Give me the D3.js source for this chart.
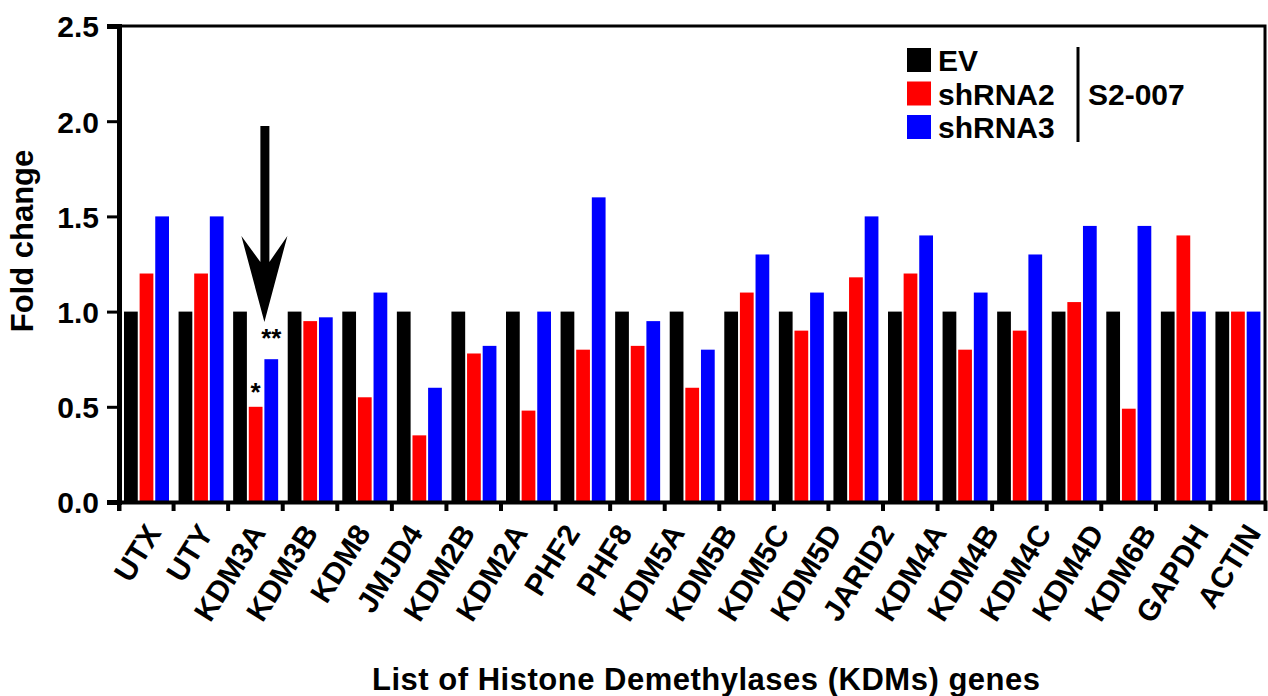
<html>
<head>
<meta charset="UTF-8">
<title>KDM fold change</title>
<script src="https://d3js.org/d3.v7.min.js"></script>
<style>
  body { margin: 0; background: #fff; }
  svg { display: block; }
  text { font-family: "Liberation Sans", Arial, sans-serif; font-weight: bold; fill: #000; }
  .tick-label { font-size: 30px; }
  .gene { font-size: 30px; }
  .legend { font-size: 30px; }
  .title { font-size: 31px; }
  .star { font-size: 26px; }
</style>
</head>
<body>
<svg width="1268" height="696"></svg>
<script>
// data
var series = ["EV", "shRNA2", "shRNA3"];
var colors = ["#000000", "#ff0000", "#0000ff"];

// gene labels as printed under the axis (22 labels)
var geneLabels = ["UTX", "UTY", "KDM3A", "KDM3B", "KDM8", "JMJD4", "KDM2B", "KDM2A",
  "PHF2", "PHF8", "KDM5A", "KDM5B", "KDM5C", "KDM5D", "JARID2", "KDM4A",
  "KDM4B", "KDM4C", "KDM4D", "KDM6B", "GAPDH", "ACTIN"];

// bar groups as drawn on the axis (21 groups in the figure)
var evValues     = [1, 1, 1, 1, 1, 1, 1, 1, 1, 1, 1, 1, 1, 1, 1, 1, 1, 1, 1, 1, 1];
var shRNA2Values = [1.2, 1.2, 0.5, 0.95, 0.55, 0.35, 0.78, 0.48, 0.8, 0.82, 0.6,
  1.1, 0.9, 1.18, 1.2, 0.8, 0.9, 1.05, 0.49, 1.4, 1.0];
var shRNA3Values = [1.5, 1.5, 0.75, 0.97, 1.1, 0.6, 0.82, 1.0, 1.6, 0.95, 0.8,
  1.3, 1.1, 1.5, 1.4, 1.1, 1.3, 1.45, 1.45, 1.0, 1.0];

var yTicks = [0, 0.5, 1, 1.5, 2, 2.5];

var groups = d3.range(evValues.length);
var rows = groups.map(function (i) {
  return [evValues[i], shRNA2Values[i], shRNA3Values[i]];
});

var svg = d3.select("svg");

var plotLeft = 119, plotRight = 1265, plotTop = 26, plotBottom = 502;

var x = d3.scaleBand().domain(groups).range([plotLeft, plotRight]);
var xSub = d3.scaleBand().domain(series).range([5, 50]).paddingInner(0.12);
var y = d3.scaleLinear().domain([0, 2.5]).range([plotBottom, plotTop]);
var labelX = d3.scalePoint().domain(geneLabels).range([162, 1262]);

// bars
svg.append("g")
  .selectAll("g")
  .data(rows)
  .enter()
  .append("g")
  .attr("transform", function (d, i) { return "translate(" + x(i) + ",0)"; })
  .selectAll("rect")
  .data(function (d) { return d; })
  .enter()
  .append("rect")
  .attr("x", function (d, j) { return xSub(series[j]); })
  .attr("width", xSub.bandwidth())
  .attr("y", function (d) { return y(d); })
  .attr("height", function (d) { return plotBottom - y(d); })
  .attr("fill", function (d, j) { return colors[j]; });

// frame top + right
svg.append("path")
  .attr("d", "M" + plotLeft + "," + plotTop + "H" + plotRight + "V" + plotBottom)
  .attr("fill", "none")
  .attr("stroke", "#000")
  .attr("stroke-width", 3);

// y axis
var yAxis = d3.axisLeft(y).tickValues(yTicks).tickSize(12).tickPadding(8)
  .tickFormat(d3.format(".1f"));
var gy = svg.append("g")
  .attr("transform", "translate(" + plotLeft + ",0)")
  .call(yAxis);
gy.select(".domain").attr("stroke-width", 5);
gy.selectAll(".tick line").attr("stroke-width", 3);
gy.selectAll(".tick text").attr("class", "tick-label").attr("dy", "0.36em");

// x axis with ticks between groups
var xAxis = d3.axisBottom(x).tickSizeOuter(0).tickSize(9).tickFormat("");
var gx = svg.append("g")
  .attr("transform", "translate(0," + plotBottom + ")")
  .call(xAxis);
gx.select(".domain").attr("stroke-width", 4);
gx.selectAll(".tick")
  .attr("transform", function (d) { return "translate(" + x(d) + ",0)"; });
gx.selectAll(".tick line").attr("stroke-width", 4);

// gene labels
svg.append("g")
  .selectAll("text")
  .data(geneLabels)
  .enter()
  .append("text")
  .attr("class", "gene")
  .attr("text-anchor", "end")
  .attr("transform", function (d) { return "translate(" + labelX(d) + ",533) rotate(-58)"; })
  .text(function (d) { return d; });

// axis titles
svg.append("text")
  .attr("class", "title")
  .attr("text-anchor", "middle")
  .attr("x", 706)
  .attr("y", 690)
  .attr("textLength", 668)
  .text("List of Histone Demethylases (KDMs) genes");

svg.append("text")
  .attr("class", "title")
  .attr("text-anchor", "middle")
  .attr("transform", "translate(33,241) rotate(-90)")
  .text("Fold change");

// legend
var legend = svg.append("g").attr("transform", "translate(907,48)");
legend.selectAll("rect")
  .data(series)
  .enter()
  .append("rect")
  .attr("x", 0)
  .attr("y", function (d, i) { return i * 33.5; })
  .attr("width", 24)
  .attr("height", 24)
  .attr("fill", function (d, i) { return colors[i]; });
legend.selectAll("text")
  .data(series)
  .enter()
  .append("text")
  .attr("class", "legend")
  .attr("x", 31)
  .attr("y", function (d, i) { return i * 33.5 + 23; })
  .text(function (d) { return d; });

svg.append("line")
  .attr("x1", 1078).attr("x2", 1078)
  .attr("y1", 47).attr("y2", 142)
  .attr("stroke", "#000")
  .attr("stroke-width", 3);

svg.append("text")
  .attr("class", "legend")
  .attr("x", 1088)
  .attr("y", 105)
  .text("S2-007");

// arrow over KDM3A
var ax = x(2) + xSub("shRNA3");
svg.append("path")
  .attr("d", "M" + ax + ",322 L" + (ax - 23) + ",236 L" + (ax - 4) + ",262 L" + (ax - 4) + ",126" +
    " L" + (ax + 5) + ",126 L" + (ax + 5) + ",262 L" + (ax + 23) + ",236 Z")
  .attr("fill", "#000");

// significance stars
svg.append("text")
  .attr("class", "star")
  .attr("text-anchor", "middle")
  .attr("x", x(2) + xSub("shRNA2") + xSub.bandwidth() / 2)
  .attr("y", y(shRNA2Values[2]) - 6)
  .text("*");
svg.append("text")
  .attr("class", "star")
  .attr("text-anchor", "middle")
  .attr("x", x(2) + xSub("shRNA3") + xSub.bandwidth() / 2)
  .attr("y", y(shRNA3Values[2]) - 12)
  .text("**");
</script>
</body>
</html>
